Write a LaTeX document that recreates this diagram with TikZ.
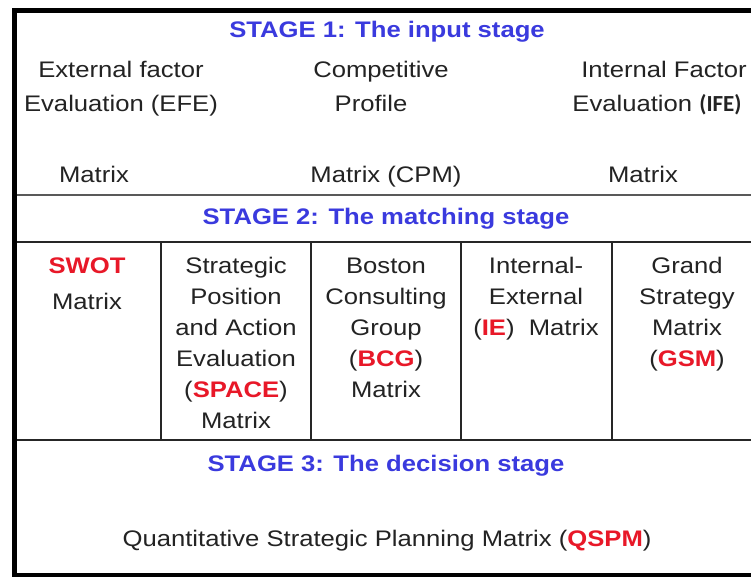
\documentclass[tikz,border=0pt]{standalone}
\usepackage{fontspec}
\setmainfont[FakeStretch=1.14]{Liberation Sans}
\newfontfamily\carl{Carlito}
\definecolor{stblue}{RGB}{58,58,222}
\definecolor{stred}{RGB}{232,24,40}
\definecolor{txt}{RGB}{35,35,35}
\newcommand{\rd}[1]{\textcolor{stred}{\bfseries #1}}
\tikzset{
  lbl/.style={anchor=base, inner sep=0pt, text=txt, font=\fontsize{22.5}{31}\selectfont},
  ttl/.style={anchor=base, inner sep=0pt, text=stblue, font=\fontsize{22.5}{31}\selectfont\bfseries},
  frame/.style={line width=4.5pt, black},
  rule/.style={line width=1.5pt, black!85},
}
\begin{document}
\begin{tikzpicture}[x=1pt,y=-1pt]
\useasboundingbox (0,0) rectangle (751,577);
\fill[white] (0,0) rectangle (751,577);
% table rules
\draw[line width=2.5pt, black!65] (14,195) -- (760,195);
\draw[rule] (14,242) -- (760,242);
\draw[rule] (14,440) -- (760,440);
\foreach \x in {161,311,461,612} \draw[rule] (\x,242) -- (\x,440);
% outer frame
\draw[frame] (760,10.5) -- (14.5,10.5) -- (14.5,575) -- (760,575);
% stage 1
\node[ttl] (s1) at (387,38) {STAGE 1: The input stage};
\node[lbl] (efe1) at (121,78) {External factor};
\node[lbl] (efe2) at (121,112) {Evaluation (EFE)};
\node[lbl] (efe3) at (94,183) {Matrix};
\node[lbl] (cpm1) at (381,78) {Competitive};
\node[lbl] (cpm2) at (371,112) {Profile};
\node[lbl] (cpm3) at (386,183) {Matrix (CPM)};
\node[lbl] (ife1) at (664,78) {Internal Factor};
\node[lbl] (ife2) at (657,112) {Evaluation {\carl\bfseries\fontsize{23}{25}\selectfont(IFE)}};
\node[lbl] (ife3) at (643,183) {Matrix};
% stage 2
\node[ttl] (s2) at (386,225) {STAGE 2: The matching stage};
\node[lbl] (sw1) at (87,273) {\rd{SWOT}};
\node[lbl] (sw2) at (87,309) {Matrix};
\node[lbl] (sp1) at (236,273) {Strategic};
\node[lbl] (sp2) at (236,304) {Position};
\node[lbl] (sp3) at (236,335) {and Action};
\node[lbl] (sp4) at (236,366) {Evaluation};
\node[lbl] (sp5) at (236,397) {(\rd{SPACE})};
\node[lbl] (sp6) at (236,428) {Matrix};
\node[lbl] (bc1) at (386,273) {Boston};
\node[lbl] (bc2) at (386,304) {Consulting};
\node[lbl] (bc3) at (386,335) {Group};
\node[lbl] (bc4) at (386,366) {(\rd{BCG})};
\node[lbl] (bc5) at (386,397) {Matrix};
\node[lbl] (ie1) at (536,273) {Internal-};
\node[lbl] (ie2) at (536,304) {External};
\node[lbl] (ie3) at (536,335) {(\rd{IE})\ \ Matrix};
\node[lbl] (gs1) at (687,273) {Grand};
\node[lbl] (gs2) at (687,304) {Strategy};
\node[lbl] (gs3) at (687,335) {Matrix};
\node[lbl] (gs4) at (687,366) {(\rd{GSM})};
% stage 3
\node[ttl] (s3) at (386,471) {STAGE 3: The decision stage};
\node[lbl] (qs) at (387,546) {Quantitative Strategic Planning Matrix (\rd{QSPM})};
\end{tikzpicture}
\end{document}
